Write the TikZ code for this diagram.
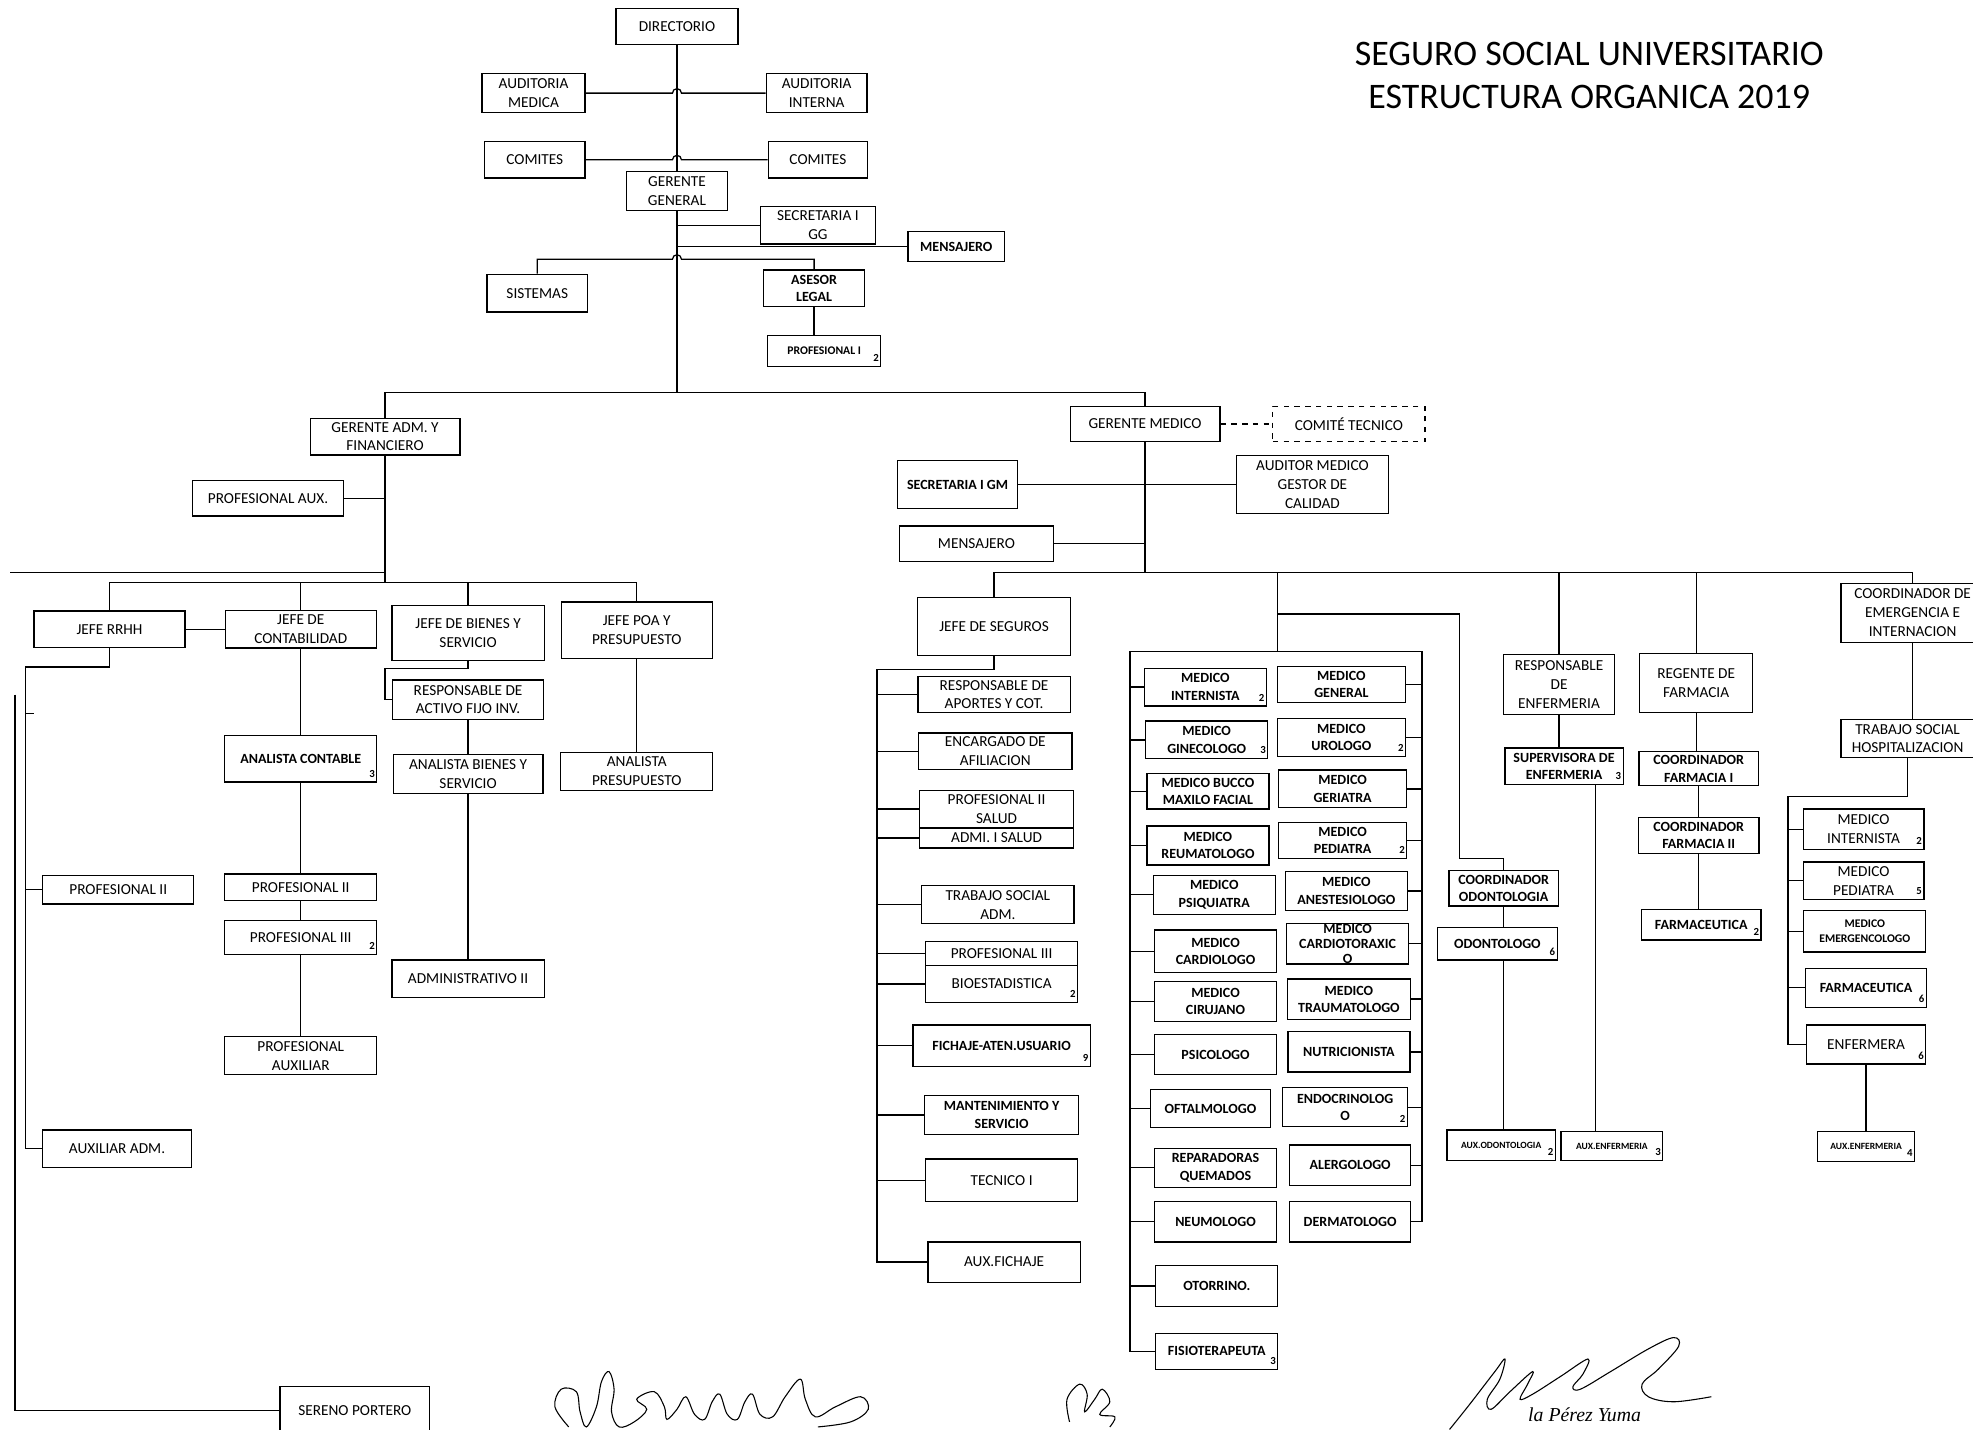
\documentclass[tikz,border=0pt]{standalone}
\usepackage{fontspec}
\setmainfont{Carlito}
\newfontfamily\signfont{Liberation Serif}
\usetikzlibrary{calc}

\newcommand\fna{\fontsize{8.5}{10.5}\selectfont}
\newcommand\fnb{\bfseries\fontsize{7.8}{9.6}\selectfont}
\newcommand\fnc{\bfseries\fontsize{6.5}{8}\selectfont}
\newcommand\fnd{\bfseries\fontsize{5.3}{6.5}\selectfont}
\newcommand\pxu{0.7pt}

\tikzset{
  cell/.style 2 args={draw, fill=white, minimum width=#1*\pxu,
    minimum height=#2*\pxu, inner sep=1pt, align=center, font=\fna},
  bcell/.style 2 args={cell={#1}{#2}, font=\fnb},
  scell/.style 2 args={cell={#1}{#2}, font=\fnc},
  tcell/.style 2 args={cell={#1}{#2}, font=\fnd},
  cnt/.style={inner sep=0pt, font=\bfseries\fontsize{6}{6}\selectfont},
}
% small count next to a box
\newcommand\Cnt[2]{\node[cnt] (#1-n) at ([xshift=-3pt,yshift=5pt]#1.south east) {#2};}

\begin{document}
\begin{tikzpicture}[x=0.7pt,y=-0.7pt,line width=0.7pt]
	\fill[white] (0,0) rectangle (1568,1136);
	\useasboundingbox (0,0) rectangle (1568,1136);

	% title
	\node[font=\fontsize{20}{24}\selectfont, align=center] (title) at (1263,60)
	  {SEGURO SOCIAL UNIVERSITARIO\\ESTRUCTURA ORGANICA 2019};

	% top of the chart
	\node[cell={97}{29}] (dir) at (538,21) {DIRECTORIO};
	\node[cell={82}{31}] (audm) at (424,74) {AUDITORIA\\MEDICA};
	\node[cell={80}{31}] (audi) at (649,74) {AUDITORIA\\INTERNA};
	\node[cell={80}{29}] (comi1) at (425,127) {COMITES};
	\node[cell={79}{29}] (comi2) at (650,127) {COMITES};
	\node[cell={80}{31}] (gg) at (538,152) {GERENTE\\GENERAL};
	\node[cell={91}{30}] (sgg) at (650,179) {SECRETARIA I\\GG};
	\node[bcell={77}{24}] (mens) at (760,196) {MENSAJERO};
	\node[cell={80}{30}] (sis) at (427,233) {SISTEMAS};
	\node[bcell={80}{29}] (ase) at (647,229) {ASESOR\\LEGAL};
	\node[scell={90}{25}] (prof1) at (655,279) {PROFESIONAL I};
	\Cnt{prof1}{2}

	% administrative side
	\node[cell={119}{29}] (gaf) at (306,347) {GERENTE ADM. Y\\FINANCIERO};
	\node[cell={120}{28}] (paux) at (213,396) {PROFESIONAL AUX.};
	\node[cell={120}{29}] (rrhh) at (87,500) {JEFE RRHH};
	\node[cell={120}{30}] (cont) at (239,500) {JEFE DE\\CONTABILIDAD};
	\node[cell={121}{44}] (bys) at (372,503) {JEFE DE BIENES Y\\SERVICIO};
	\node[cell={120}{45}] (poa) at (506,501) {JEFE POA Y\\PRESUPUESTO};
	\node[cell={120}{31}] (raf) at (372,556) {RESPONSABLE DE\\ACTIVO FIJO INV.};
	\node[bcell={121}{37}] (acont) at (239,603) {ANALISTA CONTABLE};
	\Cnt{acont}{3}
	\node[cell={119}{31}] (abys) at (372,615) {ANALISTA BIENES Y\\SERVICIO};
	\node[cell={121}{30}] (apre) at (506,613) {ANALISTA\\PRESUPUESTO};
	\node[cell={121}{21}] (p2c) at (239,705) {PROFESIONAL II};
	\node[cell={121}{27}] (p3c) at (239,745) {PROFESIONAL III};
	\Cnt{p3c}{2}
	\node[cell={121}{30}] (pauxil) at (239,839) {PROFESIONAL\\AUXILIAR};
	\node[cell={121}{30}] (adm2) at (372,778) {ADMINISTRATIVO II};
	\node[cell={120}{23}] (p2l) at (94,707) {PROFESIONAL II};
	\node[cell={118}{30}] (auxadm) at (93,913) {AUXILIAR ADM.};
	\node[cell={119}{38}] (seren) at (282,1121) {SERENO PORTERO};

	% medical side
	\node[cell={119}{28}] (gm) at (910,337) {GERENTE MEDICO};
	\node[cell={121}{28},dashed] (ct) at (1072,337) {COMITÉ TECNICO};
	\node[cell={121}{46}] (aud) at (1043,385) {AUDITOR MEDICO\\GESTOR DE\\CALIDAD};
	\node[bcell={95}{38}] (sgm) at (761,385) {SECRETARIA I GM};
	\node[cell={122}{28}] (mgm) at (776,432) {MENSAJERO};
	\node[cell={122}{46}] (js) at (790,498) {JEFE DE SEGUROS};

	% under the head of insurance
	\node[cell={121}{29}] (ra) at (790,552) {RESPONSABLE DE\\APORTES Y COT.};
	\node[cell={122}{29}] (ea) at (791,597) {ENCARGADO DE\\AFILIACION};
	\node[cell={122}{30}] (p2s) at (792,643) {PROFESIONAL II\\SALUD};
	\node[cell={122}{16}] (ais) at (792,666) {ADMI. I SALUD};
	\node[cell={121}{30}] (tsa) at (793,719) {TRABAJO SOCIAL\\ADM.};
	\node[cell={121}{20}] (p3s) at (796,758) {PROFESIONAL III};
	\node[cell={121}{29}] (bio) at (796,782) {BIOESTADISTICA};
	\Cnt{bio}{2}
	\node[bcell={141}{33}] (fau) at (796,831) {FICHAJE-ATEN.USUARIO};
	\Cnt{fau}{9}
	\node[bcell={122}{31}] (mys) at (796,886) {MANTENIMIENTO Y\\SERVICIO};
	\node[cell={121}{34}] (tec) at (796,938) {TECNICO I};
	\node[cell={121}{32}] (afx) at (798,1003) {AUX.FICHAJE};

	% specialists, left column
	\node[bcell={97}{30}] (mi) at (958,546) {MEDICO\\INTERNISTA};
	\Cnt{mi}{2}
	\node[bcell={97}{30}] (mgi) at (959,588) {MEDICO\\GINECOLOGO};
	\Cnt{mgi}{3}
	\node[bcell={97}{28}] (mbm) at (960,629) {MEDICO BUCCO\\MAXILO FACIAL};
	\node[bcell={97}{31}] (mre) at (960,672) {MEDICO\\REUMATOLOGO};
	\node[bcell={97}{31}] (mps) at (965,711) {MEDICO\\PSIQUIATRA};
	\node[bcell={97}{34}] (mca) at (966,756) {MEDICO\\CARDIOLOGO};
	\node[bcell={97}{32}] (mci) at (966,796) {MEDICO\\CIRUJANO};
	\node[bcell={97}{32}] (psi) at (966,838) {PSICOLOGO};
	\node[bcell={95}{30}] (oft) at (962,881) {OFTALMOLOGO};
	\node[bcell={97}{31}] (rq) at (966,928) {REPARADORAS\\QUEMADOS};
	\node[bcell={97}{32}] (neu) at (966,971) {NEUMOLOGO};
	\node[bcell={97}{32}] (oto) at (967,1022) {OTORRINO.};
	\node[bcell={97}{29}] (fis) at (967,1074) {FISIOTERAPEUTA};
	\Cnt{fis}{3}

	% specialists, right column
	\node[bcell={102}{29}] (mg) at (1066,544) {MEDICO\\GENERAL};
	\node[bcell={102}{30}] (mu) at (1066,586) {MEDICO\\UROLOGO};
	\Cnt{mu}{2}
	\node[bcell={102}{30}] (mge) at (1067,627) {MEDICO\\GERIATRA};
	\node[bcell={102}{29}] (mpe) at (1067,668) {MEDICO\\PEDIATRA};
	\Cnt{mpe}{2}
	\node[bcell={97}{31}] (man) at (1070,708) {MEDICO\\ANESTESIOLOGO};
	\node[bcell={97}{32},inner sep=0pt,font=\bfseries\fontsize{7.8}{8.2}\selectfont] (mct) at (1071,750) {MEDICO\\CARDIOTORAXIC\\O};
	\node[bcell={98}{32}] (mtr) at (1072,794) {MEDICO\\TRAUMATOLOGO};
	\node[bcell={97}{32}] (nut) at (1072,836) {NUTRICIONISTA};
	\node[bcell={99}{31}] (endo) at (1069,880) {ENDOCRINOLOG\\O};
	\Cnt{endo}{2}
	\node[bcell={96}{32}] (ale) at (1073,926) {ALERGOLOGO};
	\node[bcell={96}{32}] (der) at (1073,971) {DERMATOLOGO};

	% nursing and dentistry
	\node[cell={88}{48}] (re) at (1239,544) {RESPONSABLE\\DE\\ENFERMERIA};
	\node[bcell={94}{29}] (sup) at (1243,609) {SUPERVISORA DE\\ENFERMERIA};
	\Cnt{sup}{3}
	\node[tcell={81}{23}] (auxe) at (1281,911) {AUX.ENFERMERIA};
	\Cnt{auxe}{3}
	\node[bcell={87}{28}] (codo) at (1195,706) {COORDINADOR\\ODONTOLOGIA};
	\node[bcell={95}{26}] (odo) at (1190,750) {ODONTOLOGO};
	\Cnt{odo}{6}
	\node[tcell={86}{24}] (auxo) at (1193,910) {AUX.ODONTOLOGIA};
	\Cnt{auxo}{2}

	% pharmacy
	\node[cell={90}{47}] (rf) at (1348,543) {REGENTE DE\\FARMACIA};
	\node[bcell={95}{27}] (cf1) at (1350,611) {COORDINADOR\\FARMACIA I};
	\node[bcell={96}{29}] (cf2) at (1350,664) {COORDINADOR\\FARMACIA II};
	\node[bcell={95}{24}] (far) at (1352,735) {FARMACEUTICA};
	\Cnt{far}{2}

	% emergency
	\node[cell={114}{47}] (ce) at (1520,487) {COORDINADOR DE\\EMERGENCIA E\\INTERNACION};
	\node[cell={106}{30}] (tsh) at (1516,587) {TRABAJO SOCIAL\\HOSPITALIZACION};
	\node[cell={96}{32}] (emi) at (1481,659) {MEDICO\\INTERNISTA};
	\Cnt{emi}{2}
	\node[cell={96}{30}] (emp) at (1481,700) {MEDICO\\PEDIATRA};
	\Cnt{emp}{5}
	\node[scell={97}{33}] (eme) at (1482,740) {MEDICO\\EMERGENCOLOGO};
	\node[bcell={96}{31}] (efa) at (1483,785) {FARMACEUTICA};
	\Cnt{efa}{6}
	\node[cell={95}{31}] (enf) at (1483,830) {ENFERMERA};
	\Cnt{enf}{6}
	\node[tcell={77}{24}] (eaux) at (1483,911) {AUX.ENFERMERIA};
	\Cnt{eaux}{4}

	% coordinates for the lines
	\coordinate (trunk) at (538,0);
	\coordinate (hop1) at (538,74);
	\coordinate (hop2) at (538,127);
	\coordinate (hop3) at (538,206);
	\coordinate (bus1) at (538,312);
	\coordinate (lend) at (8,455);
	\coordinate (bus3) at (306,463);
	\coordinate (rafk) at (306,531);
	\coordinate (rhk) at (20,530);
	\coordinate (rtick) at (20,567);
	\coordinate (otop) at (12,552);
	\coordinate (bus4) at (910,455);
	\coordinate (sgk) at (697,532);
	\coordinate (spk) at (1015,518);
	\coordinate (sptl) at (898,518);
	\coordinate (sptr) at (1130,518);
	\coordinate (odk) at (1015,488);
	\coordinate (odk2) at (1160,682);
	\coordinate (enk) at (1268,0);
	\coordinate (emk) at (1421,633);

	% lines at the top
	\draw (dir.south) -- (gg.north);
	\draw (audm.east) -- ([xshift=-2.5pt]hop1) arc[start angle=180,end angle=0,radius=2.5pt] -- (audi.west);
	\draw (comi1.east) -- ([xshift=-2.5pt]hop2) arc[start angle=180,end angle=0,radius=2.5pt] -- (comi2.west);
	\draw (gg.south) -- (bus1);
	\draw (sgg.west) -- (sgg.west -| trunk);
	\draw (mens.west) -- (mens.west -| trunk);
	\draw (sis.north) |- ([xshift=-2.5pt]hop3) arc[start angle=180,end angle=0,radius=2.5pt] -| (ase.north);
	\draw (ase.south) -- (ase.south |- prof1.north);
	\draw (gaf.north) |- (bus1) -| (gm.north);

	% administrative side
	\draw (paux.east) -- (paux.east -| gaf.south);
	\draw (gaf.south) -- (bus3);
	\draw (lend) -- (lend -| gaf.south);
	\draw (rrhh.north) |- (bus3) -| (poa.north);
	\draw (cont.north) -- (cont.north |- bus3);
	\draw (bys.north) -- (bys.north |- bus3);
	\draw (rrhh.east) -- (cont.west);
	\draw (bys.south) |- (rafk) |- (raf.west);
	\draw (raf.south) -- (abys.north);
	\draw (abys.south) -- (adm2.north);
	\draw (poa.south) -- (apre.north);
	\draw (cont.south) -- (acont.north);
	\draw (acont.south) -- (p2c.north);
	\draw (p2c.south) -- (p3c.north);
	\draw (p3c.south) -- (pauxil.north);
	\draw (rrhh.south) |- (rhk) |- (auxadm.west);
	\draw (p2l.west) -- (p2l.west -| rhk);
	\draw (rtick) -- ++(7,0);
	\draw (otop) |- (seren.west);

	% medical side
	\draw[dashed] (gm.east) -- (ct.west);
	\draw (gm.south) -- (bus4);
	\draw (sgm.east) -- (aud.west);
	\draw (mgm.east) -- (mgm.east -| gm.south);
	\draw (js.north) |- (bus4) -| (ce.north);
	\draw (spk) -- (spk |- bus4);
	\draw (re.north) -- (re.north |- bus4);
	\draw (rf.north) -- (rf.north |- bus4);
	\draw (js.south) |- (sgk) |- (afx.west);
	\foreach \n in {ra,ea,p2s,ais,tsa,p3s,bio,fau,mys,tec}
	  \draw (\n.west) -- (\n.west -| sgk);

	% the specialists frame
	\draw (fis.west) -| (sptl) -- (sptr) |- (der.east);
	\foreach \n in {mi,mgi,mbm,mre,mps,mca,mci,psi,oft,rq,neu,oto}
	  \draw (\n.west) -- (\n.west -| sptl);
	\foreach \n in {mg,mu,mge,mpe,man,mct,mtr,nut,endo,ale}
	  \draw (\n.east) -- (\n.east -| sptr);

	\draw (odk) -| (odk2) -| (codo.north);
	\draw (codo.south) -- (codo.south |- odo.north);
	\draw (odo.south -| codo.south) -- (auxo.north -| codo.south);
	\draw (re.south) -- (re.south |- sup.north);
	\draw (sup.south -| enk) -- (auxe.north -| enk);
	\draw (rf.south) -- (rf.south |- cf1.north);
	\draw (cf1.south) -- (cf2.north);
	\draw (cf2.south) -- (cf2.south |- far.north);
	\draw (ce.south) -- (ce.south |- tsh.north);
	\draw (tsh.south) |- (emk) |- (enf.west);
	\foreach \n in {emi,emp,eme,efa}
	  \draw (\n.west) -- (\n.west -| emk);
	\draw (enf.south) -- (eaux.north);

	% signatures
	\draw[line width=0.6pt] plot[smooth,tension=0.6] coordinates {(452,1134) (441,1118) (446,1104) (458,1106) (461,1122) (466,1134) (474,1118) (478,1098) (484,1090) (488,1104) (486,1122) (492,1134) (504,1130) (514,1120) (506,1112) (520,1106) (528,1118) (530,1128) (538,1120) (545,1110) (552,1124) (560,1128) (566,1114) (572,1108) (578,1124) (586,1128) (592,1114) (598,1108) (604,1124) (614,1126) (624,1110) (636,1096) (640,1112) (648,1126) (664,1118) (684,1110) (690,1120) (676,1130) (650,1134)};
	\draw[line width=0.6pt] plot[smooth,tension=0.6] coordinates {(850,1130) (848,1112) (858,1100) (864,1108) (862,1122) (870,1112) (876,1104) (882,1114) (874,1124) (886,1126) (882,1134)};
	\draw[line width=0.6pt] plot[smooth,tension=0.6] coordinates {(1152,1136) (1168,1116) (1188,1090) (1196,1080) (1192,1096) (1182,1112) (1185,1120) (1200,1106) (1218,1090) (1214,1100) (1208,1112) (1218,1108) (1240,1094) (1262,1080) (1258,1092) (1250,1102) (1256,1104) (1280,1090) (1310,1072) (1330,1063) (1334,1070) (1318,1088) (1305,1100) (1310,1110) (1330,1114) (1360,1110)};
	\node[font=\signfont\itshape\fontsize{11}{11}\selectfont, anchor=base west, inner sep=0pt] (signame) at (1214,1130) {la Pérez Yuma};
\end{tikzpicture}
\end{document}
